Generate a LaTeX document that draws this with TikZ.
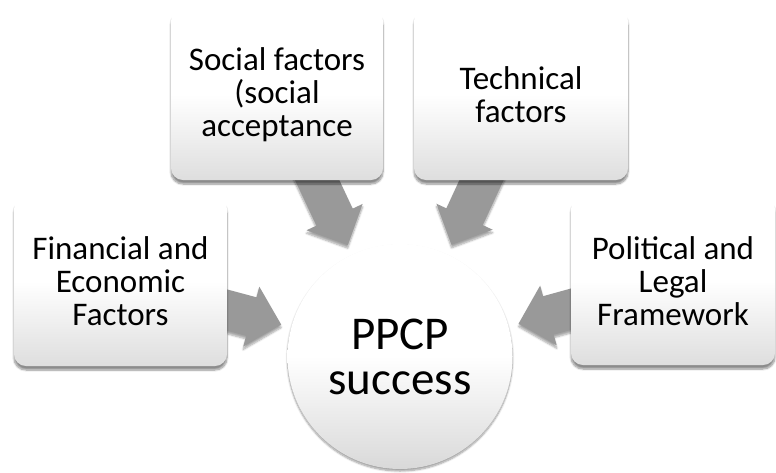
\documentclass[tikz,border=0pt]{standalone}
\usepackage{fontspec}
\setmainfont{Carlito}
\usetikzlibrary{calc,backgrounds,shadows.blur}

\begin{document}
\begin{tikzpicture}[x=1pt,y=-1pt,
  factor/.style={rounded corners=12pt,inner sep=0pt,align=center,
    top color=white,bottom color=black!13,middle color=white,
    font=\fontsize{33}{33}\selectfont,
    blur shadow={shadow xshift=0pt,shadow yshift=-4pt,shadow blur steps=8,shadow opacity=45}},
  hub/.style={circle,inner sep=0pt,minimum size=225pt,align=center,
    top color=white,bottom color=black!15,middle color=white,
    font=\fontsize{47}{45}\selectfont,
    blur shadow={shadow xshift=0pt,shadow yshift=-2pt,shadow blur steps=8,shadow opacity=40}},
  bigarrow/.style={fill=black!40,
    blur shadow={shadow xshift=0pt,shadow yshift=-3pt,shadow blur steps=6,shadow opacity=35}}]
  \useasboundingbox (0,0) rectangle (776,472);

  % Factor boxes
  \node[factor,minimum width=213pt,minimum height=169pt] (fin) at (120.5,281.5) {Financial and\\Economic\\Factors};
  \node[factor,minimum width=212pt,minimum height=171pt] (soc) at (277,94.5) {Social factors\\(social\\acceptance};
  \node[factor,minimum width=214pt,minimum height=171pt] (tech) at (521,94.5) {Technical\\factors};
  \node[factor,minimum width=204pt,minimum height=168pt] (pol) at (673,281) {Political and\\Legal\\Framework};

  % Centre
  \node[hub] (ppcp) at (400,356.5) {PPCP\\success};

  % Block arrows from each box into the centre
  \begin{scope}[on background layer]
    \foreach \b in {fin,soc,tech,pol}{
      \coordinate (tip) at ($(ppcp.center)!123pt!(\b.center)$);
      \coordinate (neck) at ($(ppcp.center)!154pt!(\b.center)$);
      \coordinate (tail) at ($(ppcp.center)!220pt!(\b.center)$);
      \fill[bigarrow] ($(tail)!20pt!90:(tip)$) -- ($(neck)!20pt!90:(tip)$)
        -- ($(neck)!31pt!90:(tip)$) -- (tip) -- ($(neck)!31pt!-90:(tip)$)
        -- ($(neck)!20pt!-90:(tip)$) -- ($(tail)!20pt!-90:(tip)$) -- cycle;
    }
  \end{scope}
\end{tikzpicture}
\end{document}
